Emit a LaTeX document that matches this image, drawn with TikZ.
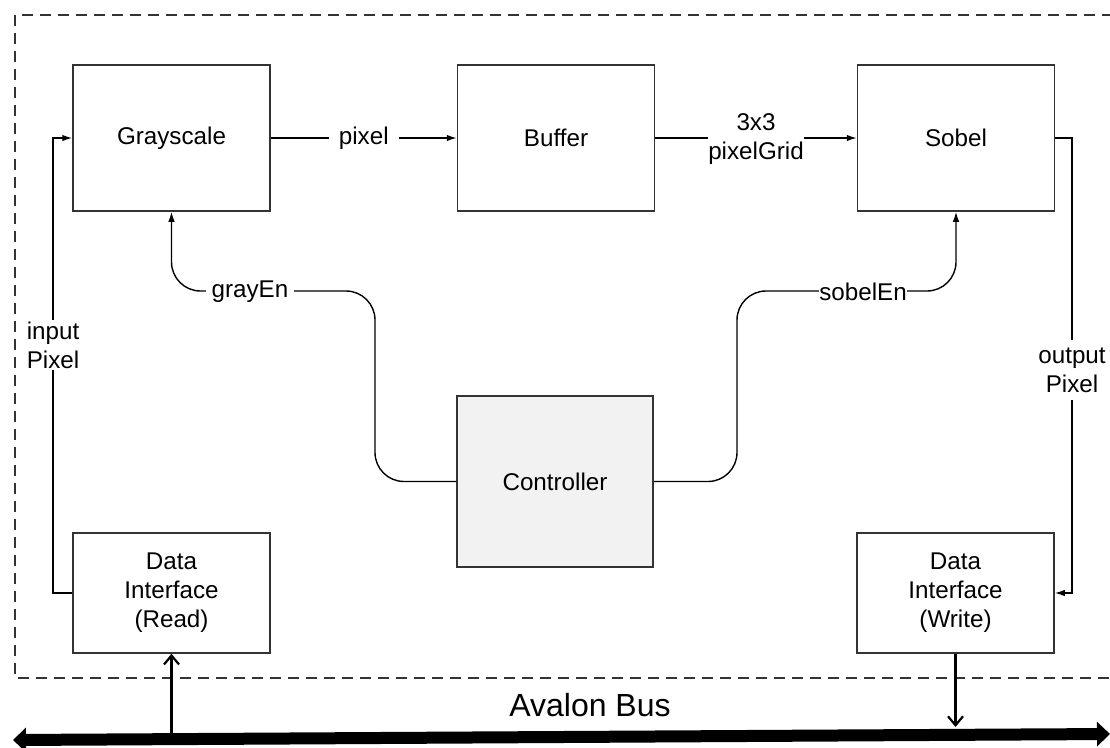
\documentclass[tikz,border=0pt]{standalone}
\usepackage{fontspec}
\setmainfont{Liberation Sans}
\usetikzlibrary{arrows.meta}
\definecolor{boxline}{HTML}{333333}
\definecolor{ctrlfill}{HTML}{F2F2F2}
\begin{document}
\begin{tikzpicture}[x=1pt,y=-1pt,
  box/.style={draw=boxline, line width=1.5pt, minimum width=197pt, inner sep=0pt,
    align=center, font=\fontsize{24.2}{29}\selectfont},
  conn/.style={line width=1.4pt, -{Latex[length=10pt,width=6.5pt]}},
  lbl/.style={font=\fontsize{24.2}{29}\selectfont, align=center, inner sep=0pt},
  busarrow/.style={line width=2.2pt, -{Straight Barb[length=9pt,width=15pt,line width=2.2pt]}},
  bus/.style={line width=12pt, {Triangle[length=13pt,width=24pt]}-{Triangle[length=13pt,width=24pt]}}
]
\useasboundingbox (0,0) rectangle (1110,747);

% outer dashed frame
\draw[line width=1.3pt, dash pattern=on 11pt off 7pt, draw=boxline] (15,15) rectangle (1125,678);

% blocks
\node[box, minimum height=146pt] (gray) at (171.5,138) {Grayscale};
\node[box, minimum height=146pt] (buf)  at (556,138) {Buffer};
\node[box, minimum height=146pt] (sobel) at (956,138) {Sobel};
\node[box, minimum width=196pt, minimum height=171pt, fill=ctrlfill] (ctrl) at (555,481.5) {Controller};
\node[box, minimum height=120pt] (read) at (171.5,593) {Data\\Interface\\(Read)};
\node[box, minimum height=120pt] (write) at (955.5,593) {Data\\Interface\\(Write)};

% data path
\draw[conn] (gray.east) -- node[lbl, fill=white, inner xsep=10pt, inner ysep=2pt] {pixel} (buf.west);
\draw[conn] (buf.east) -- node[lbl, fill=white, inner xsep=0pt, inner ysep=0pt, yshift=-1pt] {3x3\\pixelGrid} (sobel.west);
\draw[conn] (read.west) -- (53,593) -- node[pos=0.545, lbl, fill=white, inner ysep=2pt] {input\\Pixel} (53,138) -- (gray.west);
\draw[conn] (sobel.east) -- (1072,138) -- node[pos=0.51, lbl, fill=white, inner ysep=8pt] {output\\Pixel} (1072,593) -- (write.east);

% control
\draw[conn, rounded corners=29pt] (ctrl.west) -- (375,481.5) -- (375,291) -- (171.5,291) -- (gray.south);
\node[lbl, fill=white, inner xsep=6pt, inner ysep=2pt] (grayEnL) at (250,292) {grayEn};
\draw[conn, rounded corners=29pt] (ctrl.east) -- (737,481.5) -- (737,291) -- (956,291) -- (sobel.south);
\node[lbl, fill=white, inner xsep=0pt, inner ysep=2pt] (sobelEnL) at (863,292) {sobelEn};

% Avalon bus
\coordinate (busL) at (13,740);
\coordinate (busR) at (1110,734);
\draw[bus] (busL) -- (busR);
\coordinate (rb) at (171.5,736);
\coordinate (wb) at (955.5,727);
\draw[busarrow] (rb) -- (read.south);
\draw[busarrow] (write.south) -- (wb);
\node[font=\fontsize{32}{36}\selectfont, inner sep=0pt] (avalon) at (590,705) {Avalon Bus};
\end{tikzpicture}
\end{document}
